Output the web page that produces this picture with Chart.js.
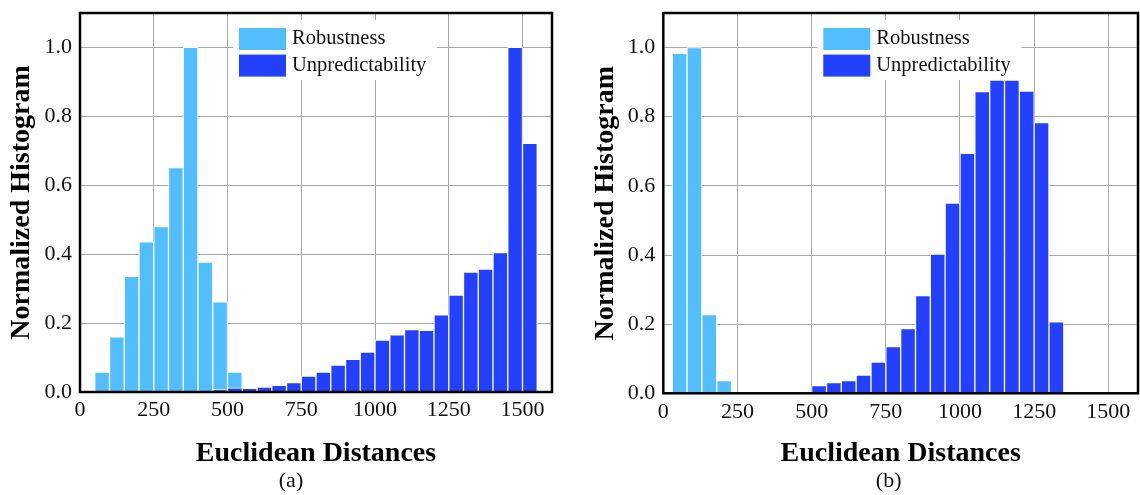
<!DOCTYPE html>
<html>
<head>
<meta charset="utf-8">
<script src="https://cdn.jsdelivr.net/npm/chart.js@4.4.1/dist/chart.umd.min.js"></script>
<style>
  body { margin: 0; background: #fff; }
  .wrap { position: absolute; top: 0; width: 570px; height: 495px; }
</style>
</head>
<body>
<div class="wrap" style="left:0"><canvas id="chartA"></canvas></div>
<div class="wrap" style="left:570px"><canvas id="chartB"></canvas></div>
<script>
// ---- data (bin centres, normalized counts) ----
const seriesNames = ['Robustness', 'Unpredictability'];
const xTicks = [0, 250, 500, 750, 1000, 1250, 1500];
const yTicks = [0, 0.2, 0.4, 0.6, 0.8, 1.0];

// (a)
const robustBinsA = [75, 125, 175, 225, 275, 325, 375, 425, 475, 525];
const robustA = [0.058, 0.160, 0.336, 0.436, 0.480, 0.651, 1.0, 0.377, 0.262, 0.058];
const unpredBinsA = [475, 525, 575, 625, 675, 725, 775, 825, 875, 925, 975, 1025, 1075,
  1125, 1175, 1225, 1275, 1325, 1375, 1425, 1475, 1525];
const unpredA = [0.007, 0.012, 0.011, 0.014, 0.019, 0.027, 0.046, 0.058, 0.078, 0.095, 0.116,
  0.151, 0.166, 0.181, 0.179, 0.224, 0.281, 0.348, 0.357, 0.405, 1.0, 0.722];

// (b)
const robustBinsB = [55, 105, 155, 205];
const robustB = [0.983, 1.0, 0.228, 0.037];
const unpredBinsB = [525, 575, 625, 675, 725, 775, 825, 875, 925, 975, 1025, 1075, 1125,
  1175, 1225, 1275, 1325];
const unpredB = [0.022, 0.031, 0.037, 0.053, 0.090, 0.135, 0.187, 0.283, 0.403, 0.550,
  0.694, 0.873, 0.906, 0.906, 0.874, 0.783, 0.207];

const lightBlue = '#52beff';
const darkBlue = '#2340ff';
const serif = '"Liberation Serif", "Times New Roman", serif';

// legend box drawn inside the plot area
const boxLegend = {
  id: 'boxLegend',
  afterDatasetsDraw(chart, args, opts) {
    const { ctx, chartArea } = chart;
    const x0 = chartArea.left + opts.dx;
    const y0 = chartArea.top + 7;
    ctx.save();
    ctx.fillStyle = '#fff';
    ctx.fillRect(x0, y0, 204, 60);
    ctx.font = '20.5px ' + serif;
    ctx.textBaseline = 'middle';
    chart.data.datasets.forEach((ds, i) => {
      const y = y0 + 8 + i * 26.6;
      ctx.fillStyle = ds.backgroundColor;
      ctx.fillRect(x0 + 6, y, 47, 22);
      ctx.fillStyle = '#111';
      ctx.fillText(ds.label, x0 + 59, y + 11);
    });
    ctx.restore();
  }
};

// black box round the plot + the (a)/(b) caption
const frame = {
  id: 'frame',
  afterDraw(chart, args, opts) {
    const { ctx, chartArea: a } = chart;
    ctx.save();
    ctx.strokeStyle = '#000';
    ctx.lineWidth = 2.5;
    ctx.strokeRect(a.left, a.top, a.right - a.left, a.bottom - a.top);
    ctx.fillStyle = '#111';
    ctx.font = '22px ' + serif;
    ctx.textAlign = 'center';
    ctx.textBaseline = 'middle';
    ctx.fillText(opts.caption, (a.left + a.right) / 2 + opts.capDx, 481);
    ctx.restore();
  }
};

const makeChart = (id, rBins, rVals, uBins, uVals, cfg) => {
  const ctx = document.getElementById(id).getContext('2d');
  return new Chart(ctx, {
    type: 'bar',
    data: {
      datasets: [
        {
          label: seriesNames[0],
          data: rBins.map((x, i) => ({ x: x, y: rVals[i] })),
          backgroundColor: lightBlue,
          borderColor: '#fff',
          borderWidth: 1,
          order: 1
        },
        {
          label: seriesNames[1],
          data: uBins.map((x, i) => ({ x: x, y: uVals[i] })),
          backgroundColor: darkBlue,
          borderColor: '#fff',
          borderWidth: 1,
          order: 0
        }
      ]
    },
    options: {
      responsive: true,
      maintainAspectRatio: false,
      animation: false,
      datasets: { bar: { grouped: false, barPercentage: 1, categoryPercentage: 1 } },
      layout: { padding: { left: 0, right: cfg.padRight, top: 13, bottom: 30.4 } },
      scales: {
        x: {
          type: 'linear',
          min: 0,
          max: 1600,
          offset: false,
          grid: { offset: false, color: '#a8a8a8', lineWidth: 1, drawTicks: false },
          border: { display: false },
          afterBuildTicks: s => { s.ticks = xTicks.map(v => ({ value: v })); },
          afterFit: s => { s.height = cfg.xHeight; s.paddingLeft = 0; s.paddingRight = 0; },
          ticks: {
            padding: 5.5,
            color: '#111',
            font: { family: serif, size: 22 },
            callback: v => String(v)
          },
          title: {
            display: true,
            text: 'Euclidean Distances',
            color: '#000',
            padding: { top: 0, bottom: 0 },
            font: { family: serif, size: 28, weight: 'bold', lineHeight: 0.8 }
          }
        },
        y: {
          min: 0,
          max: 1.1,
          grid: { color: '#a8a8a8', lineWidth: 1, drawTicks: false },
          border: { display: false },
          afterBuildTicks: s => { s.ticks = yTicks.map(v => ({ value: v })); },
          afterFit: s => { s.width = cfg.yWidth; s.paddingTop = 0; s.paddingBottom = 0; },
          ticks: {
            padding: 8,
            color: '#111',
            font: { family: serif, size: 22 },
            callback: v => v.toFixed(1)
          },
          title: {
            display: true,
            text: 'Normalized Histogram',
            color: '#000',
            padding: { top: cfg.yTitlePad, bottom: 0 },
            font: { family: serif, size: 28, weight: 'bold', lineHeight: 1.1 }
          }
        }
      },
      plugins: {
        legend: { display: false },
        tooltip: { enabled: false },
        boxLegend: { dx: cfg.legendDx },
        frame: { caption: cfg.caption, capDx: cfg.capDx }
      }
    },
    plugins: [boxLegend, frame]
  });
};

makeChart('chartA', robustBinsA, robustA, unpredBinsA, unpredA,
  { caption: '(a)', capDx: -25, padRight: 18, xHeight: 72.6, yWidth: 80, yTitlePad: 6.6, legendDx: 153 });
makeChart('chartB', robustBinsB, robustB, unpredBinsB, unpredB,
  { caption: '(b)', capDx: -12, padRight: 2, xHeight: 71.3, yWidth: 93.3, yTitlePad: 20.6, legendDx: 154 });
</script>
</body>
</html>
